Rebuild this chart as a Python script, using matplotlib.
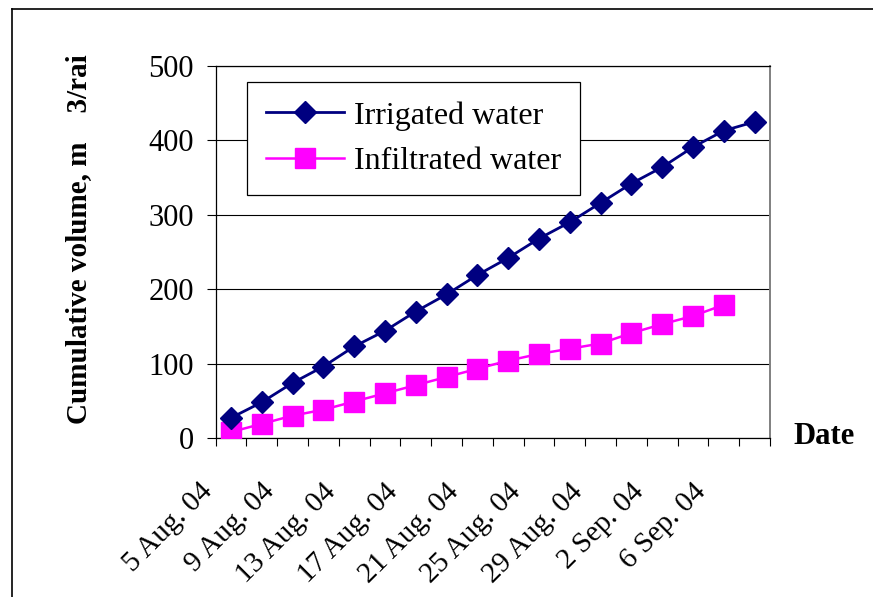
import numpy as np
import matplotlib
matplotlib.use('Agg')
import matplotlib.pyplot as plt
from matplotlib.lines import Line2D
from matplotlib.transforms import ScaledTranslation

# ===== Data =====
dates = ['5 Aug. 04', '7 Aug. 04', '9 Aug. 04', '11 Aug. 04', '13 Aug. 04', '15 Aug. 04',
         '17 Aug. 04', '19 Aug. 04', '21 Aug. 04', '23 Aug. 04', '25 Aug. 04', '27 Aug. 04',
         '29 Aug. 04', '31 Aug. 04', '2 Sep. 04', '4 Sep. 04', '6 Sep. 04', '8 Sep. 04']
irrigated = [27, 48, 74, 96, 123, 144, 170, 193, 219, 242, 268, 290, 316, 342, 364, 391, 413, 425]
infiltrated = [8, 19, 30, 38, 49, 60, 71, 82, 93, 104, 113, 120, 127, 141, 153, 164, 179]
yticks = [0, 100, 200, 300, 400, 500]

plt.rcParams['font.family'] = ['Liberation Serif', 'DejaVu Serif']

W, H = 873, 597
fig = plt.figure(figsize=(W / 100, H / 100), dpi=100)

# plot area in pixels: x 215.5..770, y 66..438
left, right, top, bottom = 215.5, 770, 66, 438
ax = fig.add_axes([left / W, 1 - bottom / H, (right - left) / W, (bottom - top) / H])

x_irr = np.arange(len(irrigated))
x_inf = np.arange(len(infiltrated))

ax.plot(x_irr, irrigated, color='#000080', lw=2.0, marker='D', ms=11.5,
        mec='#000080', mfc='#000080', label='Irrigated water', zorder=4)
ax.plot(x_inf, infiltrated, color='#FF00FF', lw=1.8, marker='s', ms=14,
        mec='#FF00FF', mfc='#FF00FF', label='Infiltrated water', zorder=3)

# y axis
ax.set_ylim(0, 500)
ax.set_yticks(yticks)
ax.yaxis.grid(True, color='black', lw=0.8)
ax.set_axisbelow(True)
ax.tick_params(axis='y', direction='out', length=6.5, width=0.8, pad=9, labelsize=22)

# x axis: tick marks at category boundaries, labels every 2nd category
ax.set_xlim(-0.5, len(dates) - 0.5)
ax.set_xticks(np.arange(-0.5, len(dates), 1.0))
ax.set_xticklabels([])
ax.tick_params(axis='x', which='major', direction='out', length=5.5, width=0.8)
ax.set_xticks(np.arange(0, len(dates), 2), minor=True)
ax.set_xticklabels(dates[::2], minor=True, rotation=45, ha='right', va='top')
ax.tick_params(axis='x', which='minor', length=0, pad=29, labelsize=21)
offset = ScaledTranslation(-13 / 100, 0, fig.dpi_scale_trans)
for lbl in ax.get_xticklabels(minor=True):
    lbl.set_transform(lbl.get_transform() + offset)

for s in ['left', 'bottom', 'top']:
    ax.spines[s].set_color('black')
    ax.spines[s].set_linewidth(0.9)
ax.spines['right'].set_color('#808080')
ax.spines['right'].set_linewidth(1.4)

ax.set_ylabel('Cumulative volume, m    3/rai', fontsize=21, fontweight='bold')
ax.yaxis.set_label_coords(-0.222, 0.535)

ax.text(1.0415, 0.003, 'Date', transform=ax.transAxes, fontsize=22,
        fontweight='bold', ha='left', va='center')

leg = ax.legend(loc='upper left', bbox_to_anchor=(0.0568, 0.957), borderaxespad=0,
                fontsize=23, frameon=True, fancybox=False, framealpha=1,
                edgecolor='black', handlelength=2.45, handletextpad=0.3,
                labelspacing=0.5, borderpad=0.6)
leg.get_frame().set_linewidth(0.9)

# outer chart border (left and top edges visible in the crop)
bx, by = 12 / W, 1 - 9 / H
fig.add_artist(Line2D([bx, bx], [0, by], transform=fig.transFigure, color='black', lw=1.2))
fig.add_artist(Line2D([bx, 1], [by, by], transform=fig.transFigure, color='black', lw=1.2))

fig.savefig('out.png', dpi=100)
